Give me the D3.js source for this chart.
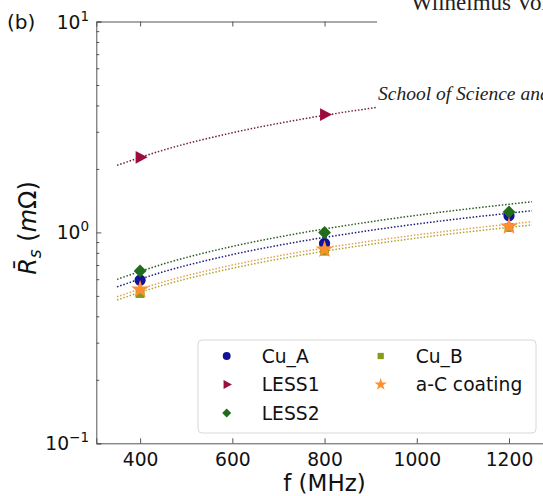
<!DOCTYPE html>
<html><head><meta charset="utf-8">
<script src="https://cdn.jsdelivr.net/npm/d3@7"></script>
<style>html,body{margin:0;padding:0;background:#fff;}svg{display:block;overflow:hidden;}</style>
</head><body>
<svg id="chart" width="543" height="496"></svg>
<script>
// ---- data ----
const seriesNames = ["Cu_A", "LESS1", "LESS2", "Cu_B", "a-C coating"];
const freqs = [400, 800, 1200];
const cuA   = [0.593, 0.886, 1.20];
const less1 = [2.27, 3.62];
const less2 = [0.657, 0.999, 1.251];
const cuB   = [0.513, 0.815, 1.055];
const aC    = [0.536, 0.830, 1.068];
// dotted fit curves
const fitFreqs = [350, 450, 600, 750, 900, 1050, 1250];
const fitCuA   = [0.552, 0.650, 0.785, 0.908, 1.023, 1.131, 1.267];
const fitLess1 = [2.08, 2.454, 2.968, 3.440, 3.879, 4.293, 4.817];
const fitLess2 = [0.599, 0.708, 0.858, 0.995, 1.124, 1.245, 1.398];
const fitCuB   = [0.478, 0.562, 0.676, 0.781, 0.878, 0.970, 1.085];
const fitAC    = [0.495, 0.582, 0.700, 0.809, 0.909, 1.004, 1.124];
const xTicks = [400, 600, 800, 1000, 1200];
const yMajor = [0.1, 1, 10];
const yMajorExp = ["−1", "0", "1"];

// ---- layout ----
const svg = d3.select("#chart");
const L = 96.3, R = 552.8, T = 21.5, B = 443.3;
const x = d3.scaleLinear().domain([305, 1295]).range([L, R]);
const y = d3.scaleLog().domain([0.1, 10]).range([B, T]);
const font = "DejaVu Sans, sans-serif";

const colors = {"Cu_A":"#12129a","LESS1":"#9c0c3c","LESS2":"#226b1c","Cu_B":"#8a9a1c","a-C coating":"#ff8f2e"};
const lineColors = {"Cu_A":"#1c1c80","LESS1":"#702040","LESS2":"#2a5a24","Cu_B":"#a8a830","a-C coating":"#e8a050"};

// axes
const gx = svg.append("g").attr("transform", `translate(0,${B})`)
  .call(d3.axisBottom(x).tickValues(xTicks).tickSize(-5).tickPadding(9).tickFormat(d3.format("d")));
gx.selectAll("text").attr("font-family", font).attr("font-size", "18.7px").attr("fill", "#111").attr("dy", "0.71em");
gx.select(".domain").attr("stroke", "#555");
gx.selectAll(".tick line").attr("stroke", "#555");

const gxt = svg.append("g").attr("transform", `translate(0,${T})`)
  .call(d3.axisTop(x).tickValues(xTicks).tickSize(-5).tickFormat(""));
gxt.select(".domain").attr("stroke", "#555");
gxt.selectAll(".tick line").attr("stroke", "#555");

const minor = [];
[0.1, 1].forEach(d => { for (let k = 2; k <= 9; k++) minor.push(d * k); });
const gy = svg.append("g").attr("transform", `translate(${L},0)`)
  .call(d3.axisLeft(y).tickValues(yMajor).tickSize(-5).tickFormat(""));
gy.select(".domain").attr("stroke", "#555");
gy.selectAll(".tick line").attr("stroke", "#555");
const gym = svg.append("g").attr("transform", `translate(${L},0)`)
  .call(d3.axisLeft(y).tickValues(minor).tickSize(-3).tickFormat(""));
gym.select(".domain").remove();
gym.selectAll(".tick line").attr("stroke", "#555");

// y tick labels
yMajor.forEach((v, i) => {
  const t = svg.append("text").attr("x", 89).attr("y", y(v) + 7)
    .attr("text-anchor", "end").attr("font-family", font).attr("font-size", "18.7px").attr("fill", "#111");
  t.append("tspan").text("10");
  t.append("tspan").attr("dy", -8).attr("font-size", "13.5px").text(yMajorExp[i]);
});

// fit curves
const line = d3.line().x(d => x(d[0])).y(d => y(d[1])).curve(d3.curveMonotoneX);
const fits = [["Cu_A", fitCuA], ["LESS1", fitLess1], ["LESS2", fitLess2], ["Cu_B", fitCuB], ["a-C coating", fitAC]];
fits.forEach(([name, vals]) => {
  svg.append("path").datum(fitFreqs.map((f, i) => [f, vals[i]]))
    .attr("d", line).attr("fill", "none").attr("stroke", lineColors[name])
    .attr("stroke-width", 1.5).attr("stroke-dasharray", "1.5,1.8");
});

// markers
const sym = {
  "Cu_A": d3.symbolCircle, "LESS1": "tri", "LESS2": d3.symbolDiamond2,
  "Cu_B": d3.symbolSquare, "a-C coating": d3.symbolStar
};
function drawMarker(g, name, cx, cy, s) {
  if (name === "LESS1") {
    const h = 7.5 * s;
    g.append("path").attr("d", `M${cx + h},${cy} L${cx - h * 0.6},${cy - h * 0.85} L${cx - h * 0.6},${cy + h * 0.85} Z`)
      .attr("fill", colors[name]);
  } else {
    const size = {"Cu_A": 100, "LESS2": 105, "Cu_B": 80, "a-C coating": 100}[name] * s * s;
    g.append("path").attr("d", d3.symbol().type(sym[name]).size(size)())
      .attr("transform", `translate(${cx},${cy})`).attr("fill", colors[name]);
  }
}
const points = [["Cu_A", cuA], ["LESS1", less1], ["LESS2", less2], ["Cu_B", cuB], ["a-C coating", aC]];
const gp = svg.append("g");
points.forEach(([name, vals]) => {
  vals.forEach((v, i) => drawMarker(gp, name, x(freqs[i]), y(v), 1));
});

// overlay paper fragment (top right)
svg.append("rect").attr("x", 377).attr("y", 0).attr("width", 170).attr("height", 113).attr("fill", "#fff");
svg.append("text").attr("x", 411).attr("y", 10).attr("font-family", "Liberation Serif, serif")
  .attr("font-size", "23px").attr("fill", "#222").text("Wilhelmus  Von");
svg.append("text").attr("x", 378).attr("y", 100).attr("font-family", "Liberation Serif, serif")
  .attr("font-style", "italic").attr("font-size", "19.5px").attr("fill", "#222").text("School of Science and");

// legend
svg.append("rect").attr("x", 198).attr("y", 340).attr("width", 338).attr("height", 93).attr("rx", 4)
  .attr("fill", "#fff").attr("fill-opacity", 0.85).attr("stroke", "#d8d8d8");
const legPos = [[226.7, 356], [226.7, 384.5], [226.7, 413], [380.7, 356], [380.7, 384.5]];
seriesNames.forEach((name, i) => {
  const [mx, my] = legPos[i];
  drawMarker(svg, name, mx, my, 0.7);
  svg.append("text").attr("x", mx + 35).attr("y", my + 6.8).attr("font-family", font)
    .attr("font-size", "18.7px").attr("fill", "#111").text(name);
});

// axis labels
svg.append("text").attr("x", 324.5).attr("y", 491).attr("text-anchor", "middle")
  .attr("font-family", font).attr("font-size", "23px").attr("fill", "#111").text("f (MHz)");
const yl = svg.append("text").attr("transform", "translate(36,228) rotate(-90)").attr("text-anchor", "middle")
  .attr("font-family", font).attr("font-size", "24px").attr("fill", "#111");
yl.append("tspan").attr("font-style", "italic").text("R\u0304");
yl.append("tspan").attr("font-style", "italic").attr("font-size", "17px").attr("dy", 5).text("s");
yl.append("tspan").attr("dy", -5).text(" (");
yl.append("tspan").attr("font-style", "italic").text("m");
yl.append("tspan").text("Ω)");

svg.append("text").attr("x", 7).attr("y", 29).attr("font-family", font).attr("font-size", "20px")
  .attr("fill", "#111").text("(b)");
</script>
</body></html>
